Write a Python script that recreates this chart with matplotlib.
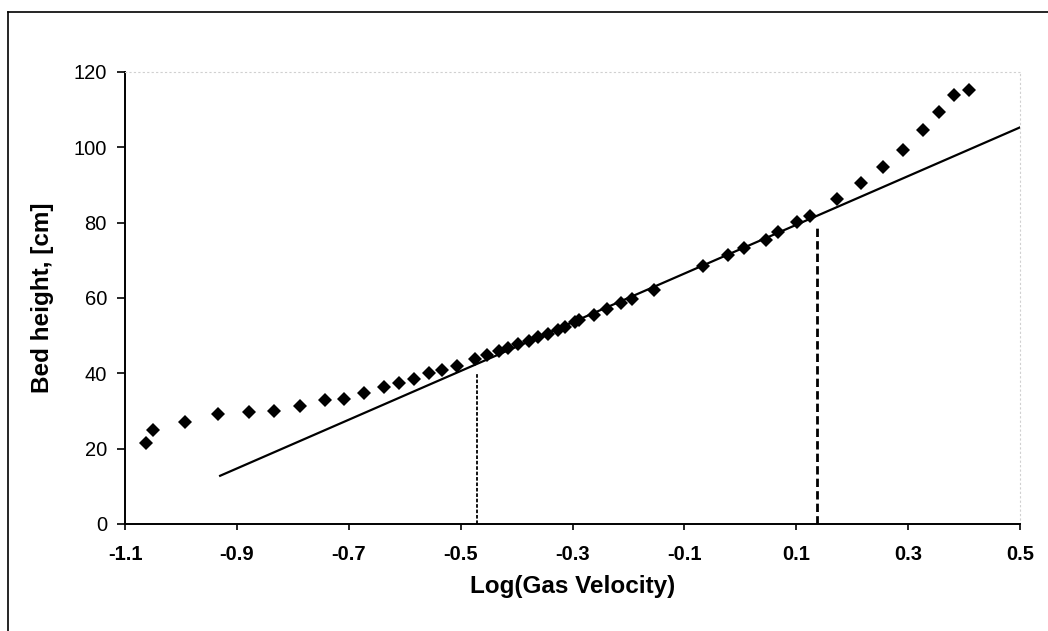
import matplotlib.pyplot as plt
from matplotlib.lines import Line2D

plt.rcParams['font.family'] = ['Liberation Sans', 'DejaVu Sans']

# measured points
log_v = [-1.063, -1.050, -0.993, -0.934, -0.878, -0.833, -0.787, -0.743,
         -0.708, -0.672, -0.637, -0.610, -0.583, -0.557, -0.533, -0.506,
         -0.474, -0.453, -0.432, -0.416, -0.397, -0.378, -0.361, -0.344,
         -0.326, -0.313, -0.295, -0.288, -0.262, -0.238, -0.214, -0.194,
         -0.155, -0.067, -0.022, 0.007, 0.045, 0.068, 0.101, 0.124,
         0.173, 0.215, 0.255, 0.291, 0.326, 0.356, 0.382, 0.409]
bed_h = [21.6, 24.9, 27.2, 29.2, 29.7, 30.1, 31.4, 32.8,
         33.2, 34.9, 36.3, 37.4, 38.4, 40.0, 40.9, 41.9,
         43.7, 44.8, 46.0, 46.8, 47.8, 48.7, 49.7, 50.5,
         51.5, 52.2, 53.6, 54.2, 55.6, 57.0, 58.8, 59.8,
         62.2, 68.6, 71.3, 73.4, 75.4, 77.6, 80.1, 81.9,
         86.2, 90.5, 94.8, 99.4, 104.6, 109.3, 113.9, 115.2]

# linear fit line
fit_x = [-0.93, 0.5]
fit_y = [12.8, 105.3]

# limits of the linear region
lim_x = [-0.470, 0.137]
lim_top = [40.2, 78.5]

xticks = [-1.1, -0.9, -0.7, -0.5, -0.3, -0.1, 0.1, 0.3, 0.5]
yticks = [0, 20, 40, 60, 80, 100, 120]

fig = plt.figure(figsize=(10.48, 6.31), dpi=100)
ax = fig.add_axes([0.1193, 0.1696, 0.854, 0.7163])

ax.plot(log_v, bed_h, 'D', color='black', markersize=7, markeredgewidth=0, zorder=3)
ax.plot(fit_x, fit_y, '-', color='black', linewidth=1.6)

ax.plot([lim_x[0], lim_x[0]], [0, lim_top[0]], color='black', linewidth=1.3,
        linestyle=(0, (2, 1)))
ax.plot([lim_x[1], lim_x[1]], [0, lim_top[1]], color='black', linewidth=2.0,
        linestyle=(0, (3, 1.5)))

ax.set_xlim(-1.1, 0.5)
ax.set_ylim(0, 120)
ax.set_xticks(xticks)
ax.set_xticklabels([f'{t:g}' for t in xticks], fontweight='bold', fontsize=14.5)
ax.set_yticks(yticks)
ax.set_yticklabels([str(t) for t in yticks], fontsize=14.5)
ax.tick_params(axis='x', direction='out', length=4, width=1.2, pad=11)
ax.tick_params(axis='y', direction='out', length=6, width=1.2, pad=7)

for s in ['left', 'bottom']:
    ax.spines[s].set_linewidth(1.4)
for s in ['top', 'right']:
    ax.spines[s].set_color('#d0d0d0')
    ax.spines[s].set_linewidth(0.8)
    ax.spines[s].set_linestyle((0, (1, 3)))

ax.set_xlabel('Log(Gas Velocity)', fontweight='bold', fontsize=17.5, labelpad=8)
ax.set_ylabel('Bed height, [cm]', fontweight='bold', fontsize=17.5, labelpad=14)

# outer frame (left and top edges)
fig.add_artist(Line2D([8 / 1048, 8 / 1048], [0, 1 - 12 / 631],
                      transform=fig.transFigure, color='black', linewidth=1.2))
fig.add_artist(Line2D([8 / 1048, 1], [1 - 12 / 631, 1 - 12 / 631],
                      transform=fig.transFigure, color='black', linewidth=1.2))

fig.savefig('out.png', dpi=100)
